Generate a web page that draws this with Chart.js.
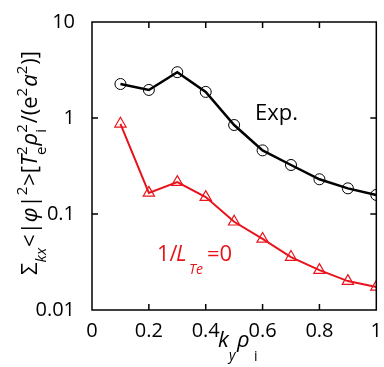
<!DOCTYPE html>
<html>
<head>
<meta charset="utf-8">
<script src="https://cdn.jsdelivr.net/npm/chart.js@4"></script>
<style>
  html, body { margin: 0; padding: 0; background: #fff; }
  #wrap { width: 384px; height: 367px; }
</style>
</head>
<body>
<div id="wrap"><canvas id="chart" width="384" height="367"></canvas></div>
<script>
const FONT = "'Open Sans', sans-serif";
const RED = "#e8141c";

/* data */
const kyRho = [0.1, 0.2, 0.3, 0.4, 0.5, 0.6, 0.7, 0.8, 0.9, 1.0];
const expVals = [2.26, 1.96, 3.0, 1.87, 0.845, 0.46, 0.324, 0.23, 0.185, 0.158];
const flatTeVals = [0.87, 0.166, 0.215, 0.15, 0.083, 0.055, 0.0356, 0.026, 0.020, 0.0174];

const xTicks = [0, 0.2, 0.4, 0.6, 0.8, 1];
const yTicks = [0.01, 0.1, 1, 10];
const yTickLabels = ["0.01", "0.1", "1", "10"];

function pts(vals) {
  return kyRho.map((x, i) => ({ x: x, y: vals[i] }));
}

/* draw a list of runs: {t, it, sup, sub}, squeezed to fit maxW */
function drawRuns(ctx, runs, size, maxW, color) {
  const small = Math.round(size * 0.68);
  const fnt = (s, it) => (it ? "italic " : "") + s + "px " + FONT;
  let w = 0;
  const widths = runs.map((r) => {
    let rw = 0;
    if (r.t) { ctx.font = fnt(size, r.it); rw = ctx.measureText(r.t).width; }
    if (r.sup) { ctx.font = fnt(small, r.supIt); rw = Math.max(rw, ctx.measureText(r.sup).width + 1); }
    if (r.sub) { ctx.font = fnt(small, r.subIt); rw = Math.max(rw, ctx.measureText(r.sub).width + 1); }
    w += rw;
    return rw;
  });
  const k = Math.min(1, maxW / w);
  ctx.scale(k, 1);
  let cx = -w / 2;
  ctx.fillStyle = color;
  ctx.textBaseline = "alphabetic";
  ctx.textAlign = "left";
  runs.forEach((r, i) => {
    if (r.t) { ctx.font = fnt(size, r.it); ctx.fillText(r.t, cx, 0); }
    if (r.sup) { ctx.font = fnt(small, r.supIt); ctx.fillText(r.sup, cx, -size * 0.47); }
    if (r.sub) { ctx.font = fnt(small, r.subIt); ctx.fillText(r.sub, cx, size * 0.40); }
    cx += widths[i];
  });
}

const frameAndText = {
  id: "frameAndText",
  afterDraw(chart) {
    const ctx = chart.ctx;
    const a = chart.chartArea;
    const xs = chart.scales.x, ys = chart.scales.y;
    ctx.save();
    ctx.strokeStyle = "#000";
    ctx.lineWidth = 1.5;
    ctx.strokeRect(a.left, a.top, a.right - a.left, a.bottom - a.top);
    ctx.beginPath();
    xTicks.slice(1, -1).forEach((v) => {
      const px = xs.getPixelForValue(v);
      ctx.moveTo(px, a.bottom); ctx.lineTo(px, a.bottom - 6);
      ctx.moveTo(px, a.top); ctx.lineTo(px, a.top + 6);
    });
    yTicks.slice(1, -1).forEach((v) => {
      const py = ys.getPixelForValue(v);
      ctx.moveTo(a.left, py); ctx.lineTo(a.left + 6, py);
      ctx.moveTo(a.right, py); ctx.lineTo(a.right - 6, py);
    });
    ctx.stroke();

    // annotations
    ctx.font = "22px " + FONT;
    ctx.fillStyle = "#000";
    ctx.textAlign = "left";
    ctx.textBaseline = "alphabetic";
    ctx.fillText("Exp.", 255, 120);

    ctx.fillStyle = RED;
    ctx.fillText("1/", 157, 261);
    ctx.font = "italic 22px " + FONT;
    ctx.fillText("L", 176, 261);
    ctx.font = "italic 14px " + FONT;
    ctx.fillText("Te", 189, 274);
    ctx.font = "22px " + FONT;
    ctx.fillText("=0", 207, 261);

    // x title
    ctx.fillStyle = "#000";
    ctx.font = "italic 22px " + FONT;
    ctx.fillText("k", 218, 347);
    ctx.font = "italic 14px " + FONT;
    ctx.fillText("y", 229, 360);
    ctx.font = "italic 22px " + FONT;
    ctx.fillText("\u03C1", 237, 347);
    ctx.font = "14px " + FONT;
    ctx.fillText("i", 254, 361);

    // y title
    ctx.translate(37, 163);
    ctx.rotate(-Math.PI / 2);
    drawRuns(ctx, [
      { t: "\u03A3" },
      { sub: "kx", subIt: true },
      { t: "<|" },
      { t: "\u03C6", it: true },
      { t: "|" },
      { sup: "2" },
      { t: ">[" },
      { t: "T", it: true },
      { sup: "2", sub: "e" },
      { t: "\u03C1", it: true },
      { sup: "2", sub: "i" },
      { t: "/(e" },
      { sup: "2" },
      { t: "a", it: true },
      { sup: "2" },
      { t: ")]" }
    ], 22, 236, "#000");
    ctx.restore();
  }
};

new Chart(document.getElementById("chart"), {
  type: "line",
  data: {
    datasets: [
      {
        label: "Exp.",
        data: pts(expVals),
        borderColor: "#000",
        borderWidth: 2.5,
        tension: 0,
        pointStyle: "circle",
        pointRadius: 5.5,
        pointBorderWidth: 1,
        pointBorderColor: "#000",
        pointBackgroundColor: "rgba(0,0,0,0)",
      },
      {
        label: "1/LTe=0",
        data: pts(flatTeVals),
        borderColor: RED,
        borderWidth: 2,
        tension: 0,
        pointStyle: "triangle",
        pointRadius: 6.5,
        pointBorderWidth: 1.2,
        pointBorderColor: RED,
        pointBackgroundColor: "rgba(0,0,0,0)",
      },
    ],
  },
  options: {
    responsive: false,
    animation: false,
    layout: { padding: { top: 22, right: 6, left: 0, bottom: 0 } },
    plugins: { legend: { display: false }, tooltip: { enabled: false } },
    scales: {
      x: {
        type: "linear",
        min: 0,
        max: 1,
        afterFit: (s) => { s.height = 57; },
        afterBuildTicks: (s) => { s.ticks = xTicks.map((v) => ({ value: v })); },
        grid: { display: false },
        border: { display: false },
        ticks: {
          padding: 1,
          color: "#000",
          font: { family: FONT, size: 20 },
          callback: (v) => String(v),
          maxRotation: 0,
        },
      },
      y: {
        type: "logarithmic",
        min: 0.01,
        max: 10,
        afterFit: (s) => { s.width = 92; },
        afterBuildTicks: (s) => { s.ticks = yTicks.map((v) => ({ value: v })); },
        grid: { display: false },
        border: { display: false },
        ticks: {
          padding: 9,
          color: "#000",
          font: { family: FONT, size: 20 },
          callback: (v) => yTickLabels[yTicks.indexOf(v)] || "",
        },
      },
    },
  },
  plugins: [frameAndText],
});
</script>
</body>
</html>
